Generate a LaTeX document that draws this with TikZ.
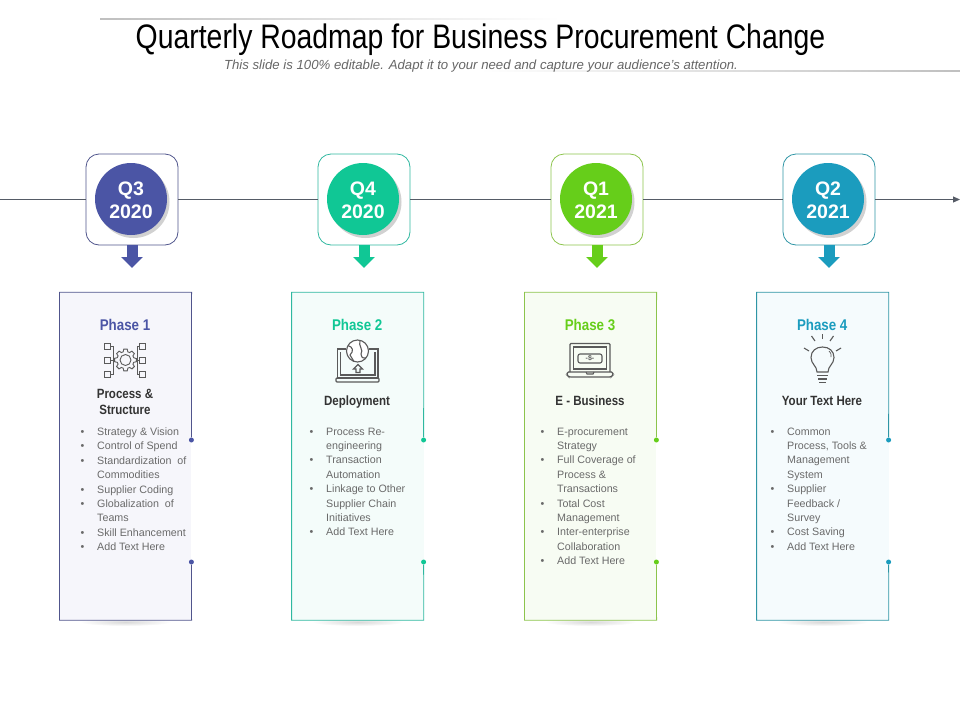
\documentclass[tikz,border=0pt]{standalone}
\usepackage{fontspec}
\setmainfont{Liberation Sans}
\newfontfamily\titlefont[FakeStretch=0.835]{Liberation Sans}
\newfontfamily\narrowfont[FakeStretch=0.86]{Liberation Sans}
\usetikzlibrary{arrows.meta,shadows}

\definecolor{colA}{HTML}{4B55A5}
\definecolor{colB}{HTML}{10C795}
\definecolor{colC}{HTML}{66CE1A}
\definecolor{colD}{HTML}{1B9CBE}
\definecolor{edgeA}{HTML}{50558C}
\definecolor{edgeB}{HTML}{2FB8A0}
\definecolor{edgeC}{HTML}{8CC44C}
\definecolor{edgeD}{HTML}{2E95A5}
\definecolor{tintA}{HTML}{F6F6FB}
\definecolor{tintB}{HTML}{F4FCFA}
\definecolor{tintC}{HTML}{F7FCF3}
\definecolor{tintD}{HTML}{F5FBFD}
\definecolor{axis}{HTML}{555B66}
\definecolor{bodytext}{HTML}{6A6A6A}
\definecolor{icon}{HTML}{5A5A5A}

% rows of the lists
\newcommand{\bl}[1]{\makebox[16.5pt][l]{\textbullet}#1\\}
\newcommand{\cn}[1]{\hspace*{16.5pt}#1\\}

\tikzset{
  qbox/.style={draw,line width=0.8pt,rounded corners=13pt,fill=white,minimum width=92pt,minimum height=91pt,inner sep=0pt},
  qdisc/.style={circle,minimum size=72pt,inner sep=0pt,text=white,align=center,
    font=\fontsize{19.5}{23}\selectfont\bfseries,
    drop shadow={shadow xshift=2.5pt,shadow yshift=-3pt,fill=black!18,opacity=1}},
  card/.style={minimum width=131.8pt,minimum height=327.7pt,inner sep=0pt},
  dotmark/.style={circle,minimum size=5pt,inner sep=0pt},
  phase/.style={font=\fontsize{15.5}{17}\narrowfont\bfseries,inner sep=0pt},
  head/.style={font=\fontsize{13.4}{16}\narrowfont\bfseries,text=black!80,align=center,inner sep=0pt},
  list/.style={anchor=north west,inner sep=0pt,align=left,text=bodytext,font=\fontsize{10.7}{14.4}\selectfont},
  pic line/.style={draw=icon,line width=1.1pt}
}

\begin{document}
\begin{tikzpicture}[x=1pt,y=-1pt]
\useasboundingbox (0,0) rectangle (960,720);
% header
\shade[left color=black!25,right color=white] (100,18.5) rectangle (560,19.5);
\shade[left color=white,right color=black!25] (480,70.5) rectangle (960,71.5);
\node[font=\fontsize{34}{38}\titlefont,inner sep=0pt] (title) at (480.5,40) {Quarterly Roadmap for Business Procurement Change};
\node[font=\fontsize{13.2}{15}\itshape,text=black!60,inner sep=0pt] (subtitle) at (481,66) {This slide is 100\% editable. Adapt it to your need and capture your audience's attention.};
% columns
\foreach \i/\bx/\cx/\qq/\yy/\lab/\col/\edg/\tnt in {
  1/132/125.5/Q3/2020/Phase 1/colA/edgeA/tintA,
  2/364/357.7/Q4/2020/Phase 2/colB/edgeB/tintB,
  3/597/590.5/Q1/2021/Phase 3/colC/edgeC/tintC,
  4/829/822.7/Q2/2021/Phase 4/colD/edgeD/tintD}{
  \node[qbox,draw=\edg] (box\i) at (\bx,199.5) {};
  \node[qdisc,fill=\col] (disc\i) at (\bx-1,199) {\rule{0pt}{17pt}\qq\\\yy};
  \coordinate (tip\i) at (\bx,268);
  \draw[\col,line width=11pt,-{Triangle[width=21pt,length=11pt]}] (box\i.south) -- (tip\i);
  \shade[inner color=black!15,outer color=white] (\cx,622) ellipse (46 and 4);
  \node[card,fill=\tnt] (card\i) at (\cx,456.2) {};
  \node[dotmark,fill=\col] (dota\i) at (\cx+65.9,440) {};
  \node[dotmark,fill=\col] (dotb\i) at (\cx+65.9,562) {};
  \draw[\edg,line width=0.8pt] (dota\i) -- (card\i.north east) -- (card\i.north west) -- (card\i.south west) -- (card\i.south east) -- (dotb\i);
  \node[phase,text=\col] (phase\i) at (\cx-0.5,325) {\lab};
}
% time line
\coordinate (start) at (0,199.5);
\coordinate (end) at (960,199.5);
\draw[axis,line width=0.8pt] (start) -- (box1) (box1) -- (box2) (box2) -- (box3) (box3) -- (box4);
\draw[axis,line width=0.8pt,-{Triangle[width=6pt,length=7pt]}] (box4) -- (end);
% captions
\node[head] (cap1) at (125,402) {Process \&\\Structure};
\node[head] (cap2) at (357,402) {\strut Deployment};
\node[head] (cap3) at (590,402) {\strut E - Business};
\node[head] (cap4) at (822,402) {\strut Your Text Here};
% lists
\node[list] (list1) at (80.5,427.5) {\bl{Strategy \& Vision}\bl{Control of Spend}\bl{Standardization\ \ of}\cn{Commodities}\bl{Supplier Coding}\bl{Globalization\ \ of}\cn{Teams}\bl{Skill Enhancement}\bl{Add Text Here}};
\node[list] (list2) at (309.5,427.5) {\bl{Process Re-}\cn{engineering}\bl{Transaction}\cn{Automation}\bl{Linkage to Other}\cn{Supplier Chain}\cn{Initiatives}\bl{Add Text Here}};
\node[list] (list3) at (540.5,427.5) {\bl{E-procurement}\cn{Strategy}\bl{Full Coverage of}\cn{Process \&}\cn{Transactions}\bl{Total Cost}\cn{Management}\bl{Inter-enterprise}\cn{Collaboration}\bl{Add Text Here}};
\node[list] (list4) at (770.5,427.5) {\bl{Common}\cn{Process, Tools \&}\cn{Management}\cn{System}\bl{Supplier}\cn{Feedback /}\cn{Survey}\bl{Cost Saving}\bl{Add Text Here}};
% icon phase 1
\begin{scope}[pic line,line width=0.9pt]
  \draw (125.5,360) ++(-7:11) \foreach \t in {0,45,...,315}{
    -- ({125.5+11*cos(\t-9)},{360+11*sin(\t-9)}) -- ({125.5+11*cos(\t+9)},{360+11*sin(\t+9)}) -- ({125.5+8.5*cos(\t+16)},{360+8.5*sin(\t+16)}) -- ({125.5+8.5*cos(\t+29)},{360+8.5*sin(\t+29)})} -- cycle;
  \draw (125.5,360) circle (5.5);
  \foreach \yy in {346,360,374}{
    \draw (104.5,\yy-3) rectangle (110.5,\yy+3);
    \draw (139.5,\yy-3) rectangle (145.5,\yy+3);
  }
  \draw (110.5,346) -- (113,346) -- (113,374) -- (110.5,374) (110.5,360) -- (114.5,360);
  \draw (139.5,346) -- (137.5,346) -- (137.5,374) -- (139.5,374) (139.5,360) -- (136.5,360);
\end{scope}
% icon phase 2
\begin{scope}[pic line]
  \draw (346,349) -- (337.5,349) -- (337.5,378) -- (378,378) -- (378,349) -- (368.5,349);
  \draw (340.5,352) -- (340.5,375) -- (375,375) -- (375,352);
  \draw[rounded corners=1pt] (336,378) rectangle (379,382);
  \draw[fill=white] (357.5,351) circle (11);
  \draw (348,345.5) .. controls (353,347) and (354,351) .. (350,355) .. controls (352,358) .. (354,361.5);
  \draw (360,340.5) .. controls (358,346) and (364,350) .. (361,354) .. controls (362,358) .. (366,358);
  \draw (358,364.5) -- (353.5,369) -- (356,369) -- (356,372.5) -- (360,372.5) -- (360,369) -- (362.5,369) -- cycle;
\end{scope}
% icon phase 3
\begin{scope}[pic line]
  \draw[rounded corners=1pt] (570,372) -- (570,343.5) -- (610,343.5) -- (610,372);
  \draw (573.5,369) rectangle (606.5,347);
  \draw[rounded corners=1.5pt] (567,372) -- (613,372) -- (613,375) -- (611,377) -- (569,377) -- (567,375) -- cycle;
  \draw (586,372) -- (587,374) -- (593,374) -- (594,372);
  \draw[rounded corners=2pt] (578,354) rectangle (602,363);
\end{scope}
\node[inner sep=0pt,text=icon,font=\fontsize{7}{8}\selectfont\bfseries] (dollar) at (590,358.5) {-\$-};
% icon phase 4
\begin{scope}[pic line]
  \draw (817,372) .. controls (817,366) and (811,364) .. (811,357.5) .. controls (811,351) and (816,347) .. (822.5,347) .. controls (829,347) and (834,351) .. (834,357.5) .. controls (834,364) and (828,366) .. (828,372) -- cycle;
  \draw (817,375.5) -- (828,375.5) (818,379) -- (827,379) (819,382.5) -- (826,382.5);
  \draw (822.5,339) -- (822.5,333.5);
  \draw (815,341) -- (811.5,336);
  \draw (830,341) -- (833.5,336);
  \draw (809,351) -- (804,348);
  \draw (836,351) -- (841,348);
  \draw[line width=0.7pt] (829,351) .. controls (831,353) .. (831,357);
\end{scope}
\end{tikzpicture}
\end{document}
